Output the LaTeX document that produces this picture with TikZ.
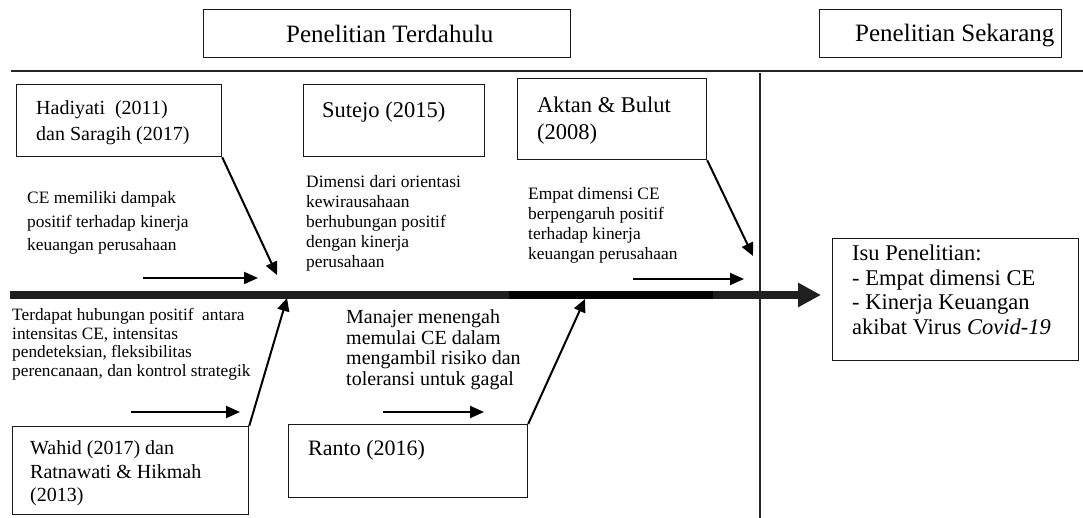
\documentclass[tikz,border=0pt]{standalone}
\usepackage{fontspec}
\setmainfont{Liberation Serif}
\usetikzlibrary{arrows.meta}
\newcommand{\fsz}[2]{\fontsize{#1}{#2}\selectfont}
\begin{document}
\begin{tikzpicture}[x=1pt,y=-1pt,
  box/.style={draw=black!90,line width=1.2pt,inner sep=0pt,anchor=north west},
  txt/.style={inner sep=0pt,anchor=base west,align=left},
  conn/.style={line width=2pt,-{Triangle[length=13pt,width=12pt]}},
  small/.style={line width=2pt,-{Triangle[length=14pt,width=12pt]}},
  rule/.style={line width=1.4pt,black!85}]
\useasboundingbox (0,0) rectangle (1083,518);
% header boxes
\node[box,minimum width=367pt,minimum height=48pt] (h1b) at (203,9) {};
\node[box,minimum width=242pt,minimum height=48pt] (h2b) at (819,9) {};
\node[txt,font=\fsz{25}{30}] (h1) at (286,42.3) {Penelitian Terdahulu};
\node[txt,font=\fsz{25}{30}] (h2) at (855,41.3) {Penelitian Sekarang};
% rules
\coordinate (hl1) at (11,71); \coordinate (hl2) at (1083,71);
\coordinate (vl1) at (760,73); \coordinate (vl2) at (760,518);
\draw[rule] (hl1) -- (hl2);
\draw[rule,line width=1.3pt] (vl1) -- (vl2);
% study boxes
\node[box,minimum width=205pt,minimum height=72pt] (hadb) at (16,84) {};
\node[box,minimum width=181pt,minimum height=72pt] (sutb) at (303,84) {};
\node[box,minimum width=189pt,minimum height=81pt] (aktb) at (517,78) {};
\node[box,minimum width=236pt,minimum height=88pt] (wahb) at (12,426) {};
\node[box,minimum width=239pt,minimum height=73pt] (ranb) at (288,424) {};
\node[box,minimum width=246pt,minimum height=122pt] (isub) at (832,238) {};
% box texts (base = baseline of last line)
\node[txt,font=\fsz{20}{25.5}] (hadt) at (36,140.1) {Hadiyati~ (2011)\\dan Saragih (2017)};
\node[txt,font=\fsz{22.5}{27}] (sutt) at (322,117.4) {Sutejo (2015)};
\node[txt,font=\fsz{22.5}{27}] (aktt) at (537,139.4) {Aktan \& Bulut\\(2008)};
\node[txt,font=\fsz{20}{23.5}] (waht) at (30,501.6) {Wahid (2017) dan\\Ratnawati \& Hikmah\\(2013)};
\node[txt,font=\fsz{22}{26}] (rant) at (308,455.3) {Ranto (2016)};
\node[txt,font=\fsz{22.5}{24.7}] (isut) at (852,334.5) {Isu Penelitian:\\- Empat dimensi CE\\- Kinerja Keuangan\\akibat Virus \textit{Covid-19}};
% findings
\node[txt,font=\fsz{17.4}{23.5}] (ce) at (27,250.7) {CE memiliki dampak\\positif terhadap kinerja\\keuangan perusahaan};
\node[txt,font=\fsz{17.4}{20}] (dim) at (306,267.7) {Dimensi dari orientasi\\kewirausahaan\\berhubungan positif\\dengan kinerja\\perusahaan};
\node[txt,font=\fsz{17.4}{20}] (emp) at (528,259.7) {Empat dimensi CE\\berpengaruh positif\\terhadap kinerja\\keuangan perusahaan};
\node[txt,font=\fsz{17.3}{18.5}] (terd) at (12,376.2) {Terdapat hubungan positif~ antara\\intensitas CE, intensitas\\pendeteksian, fleksibilitas\\perencanaan, dan kontrol strategik};
\node[txt,font=\fsz{20}{20.5}] (man) at (346,385.1) {Manajer menengah\\memulai CE dalam\\mengambil risiko dan\\toleransi untuk gagal};
% spine
\coordinate (sp0) at (10,295);
\coordinate (sp1) at (509,295);
\coordinate (sp2) at (713,295);
\coordinate (sp3) at (821,295);
\draw[line width=7.5pt,black!88] (sp0) -- (sp1);
\draw[line width=7.5pt,black] (sp1) -- (sp2);
\draw[line width=7.5pt,black!88,-{Triangle[length=23pt,width=23pt]}] (sp2) -- (sp3);
% connectors
\coordinate (t1) at (277,275);
\coordinate (t2) at (753,256);
\coordinate (t3) at (287,298);
\coordinate (t4) at (585,299);
\draw[conn] (hadb.south east) -- (t1);
\draw[conn] (aktb.south east) -- (t2);
\draw[conn] (wahb.north east) -- (t3);
\draw[conn] (ranb.north east) -- (t4);
% small arrows
\coordinate (a1s) at (143,278); \coordinate (a1e) at (258,278);
\coordinate (a2s) at (633,279); \coordinate (a2e) at (744,279);
\coordinate (a3s) at (131,412); \coordinate (a3e) at (240,412);
\coordinate (a4s) at (383,412); \coordinate (a4e) at (484,412);
\draw[small] (a1s) -- (a1e);
\draw[small] (a2s) -- (a2e);
\draw[small] (a3s) -- (a3e);
\draw[small] (a4s) -- (a4e);
\end{tikzpicture}
\end{document}
